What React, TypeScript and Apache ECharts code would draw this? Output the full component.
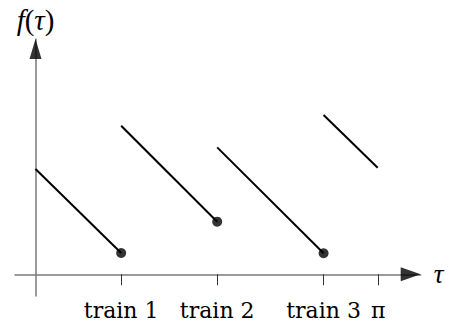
import React, { useEffect, useRef } from "react";
import * as echarts from "echarts";

// tick positions along τ and their labels
const tickValues = [0.785, 1.665, 2.64, Math.PI];
const tickLabels = ["train 1", "train 2", "train 3", "π"];

// each segment: [startX, startY, endX, endY]
const segStartX = [0, 0.785, 1.665, 2.64];
const segStartY = [0.969, 1.367, 1.168, 1.465];
const segEndX = [0.785, 1.665, 2.64, 3.136];
const segEndY = [0.196, 0.484, 0.193, 0.981];
// which segments end with a filled dot
const segHasDot = [true, true, true, false];

const X_MIN = -0.188;
const X_MAX = 3.53;
const Y_MIN = -0.2;
const Y_MAX = 2.165;

const SERIF = "DejaVu Serif";
const MATH = "Liberation Serif";

export default function App() {
  const ref = useRef<HTMLDivElement>(null);
  useEffect(() => {
    if (!ref.current) return;
    const chart = echarts.init(ref.current, null, { renderer: "svg" });
    const axisGrey = "#7a7a7a";
    const lineSeries = segStartX.map((sx, i) => ({
      type: "line",
      data: [
        [sx, segStartY[i]],
        [segEndX[i], segEndY[i]],
      ],
      showSymbol: false,
      symbol: "none",
      lineStyle: { color: "#000", width: 2 },
      silent: true,
      z: 3,
    }));
    const dots = segEndX
      .map((x, i) => (segHasDot[i] ? [x, segEndY[i]] : null))
      .filter((d) => d !== null);
    chart.setOption({
      animation: false,
      grid: {
        left: 15,
        right: 31.3,
        top: 39,
        bottom: 28,
        containLabel: false,
        outerBoundsMode: "none",
      },
      xAxis: {
        type: "value",
        min: X_MIN,
        max: X_MAX,
        name: "τ",
        nameLocation: "end",
        nameGap: 13,
        nameTextStyle: {
          fontFamily: MATH,
          fontStyle: "italic",
          fontSize: 27,
          color: "#000",
        },
        axisLine: { onZero: true, lineStyle: { color: axisGrey, width: 1.5 } },
        axisTick: {
          show: true,
          customValues: tickValues,
          length: 11,
          lineStyle: { color: "#333", width: 1 },
        },
        axisLabel: {
          show: true,
          customValues: tickValues,
          margin: 3,
          fontFamily: SERIF,
          fontSize: 22,
          color: "#000",
          formatter: (v: number) => {
            const idx = tickValues.findIndex((t) => Math.abs(t - v) < 1e-6);
            return idx >= 0 ? tickLabels[idx] : "";
          },
        },
        splitLine: { show: false },
      },
      yAxis: {
        type: "value",
        min: Y_MIN,
        max: Y_MAX,
        name: "{i|f}{n|(}{i|τ}{n|)}",
        nameLocation: "end",
        nameGap: 5,
        nameTextStyle: {
          color: "#000",
          rich: {
            i: {
              fontFamily: MATH,
              fontStyle: "italic",
              fontSize: 29,
              color: "#000",
            },
            n: {
              fontFamily: MATH,
              fontSize: 29,
              color: "#000",
            },
          },
        },
        axisLine: { onZero: true, lineStyle: { color: axisGrey, width: 1.5 } },
        axisTick: { show: false },
        axisLabel: { show: false },
        splitLine: { show: false },
      },
      series: [
        ...lineSeries,
        {
          type: "scatter",
          data: dots,
          symbol: "circle",
          symbolSize: 10,
          itemStyle: { color: "#000" },
          silent: true,
          z: 4,
        },
        {
          type: "scatter",
          data: [[X_MAX, 0]],
          symbol: "triangle",
          symbolSize: [14, 20],
          symbolRotate: -90,
          symbolOffset: [-10, 0],
          itemStyle: { color: "#000" },
          silent: true,
          clip: false,
          z: 5,
        },
        {
          type: "scatter",
          data: [[0, Y_MAX]],
          symbol: "triangle",
          symbolSize: [12, 20],
          symbolOffset: [0, 10],
          itemStyle: { color: "#000" },
          silent: true,
          clip: false,
          z: 5,
        },
      ],
    });
    return () => chart.dispose();
  }, []);
  return (
    <div
      ref={ref}
      style={{ position: "fixed", left: 0, top: 0, width: 452, height: 324, background: "#fff" }}
    />
  );
}
